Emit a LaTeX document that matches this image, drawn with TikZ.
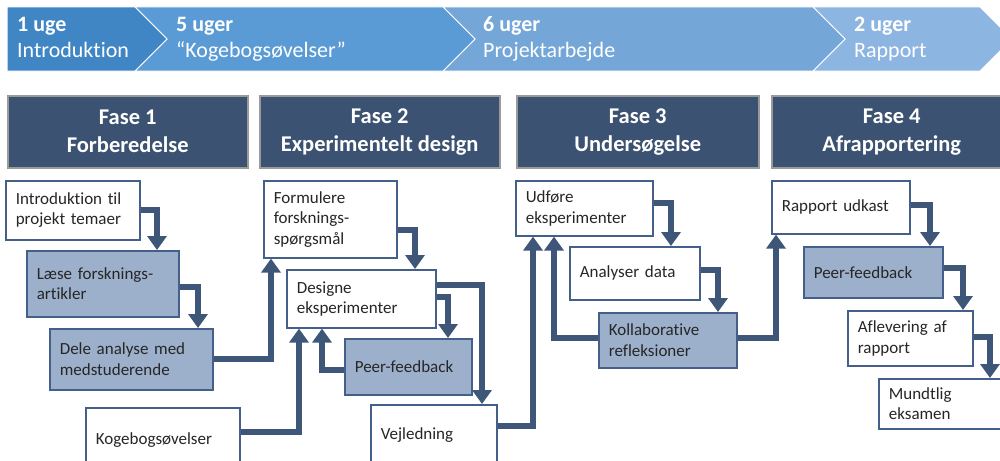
\documentclass[tikz,border=0pt]{standalone}
\usepackage{fontspec}
\setmainfont{Carlito}[Ligatures=NoCommon]
\usetikzlibrary{arrows.meta,calc}
\definecolor{cconn}{HTML}{3E5678}
\definecolor{cbord}{HTML}{44608A}
\definecolor{cfill}{HTML}{9DB0CB}
\definecolor{chdr}{HTML}{3C5272}
\definecolor{chdrb}{HTML}{9A9A9A}
\definecolor{cseg1}{HTML}{4086C5}
\definecolor{cseg2}{HTML}{5B9BD5}
\definecolor{cseg3}{HTML}{74A7D8}
\definecolor{cseg4}{HTML}{8DB5E1}
\newcommand\bxfont{\fontsize{17}{20.5}\selectfont}
\newcommand\hdfont{\fontsize{22.5}{28}\selectfont}
\newcommand\chfont{\fontsize{22}{25}\selectfont}
\begin{document}
\begin{tikzpicture}[x=1pt,y=-1pt,
 bx/.style={rectangle,draw=cbord,line width=1.6pt,anchor=north west,align=left,inner xsep=10pt,inner ysep=0pt,font=\bxfont,text=black!85},
 wbox/.style={bx,fill=white},
 gbox/.style={bx,fill=cfill},
 hdr/.style={rectangle,draw=chdrb,line width=1.5pt,fill=chdr,anchor=north west,minimum height=72,align=center,text=white,font=\hdfont\bfseries},
 arr/.style={draw=cconn,line width=6pt,-{Triangle[width=19pt,length=14pt]}},
 chev/.style={draw=white,line width=1pt},
 cht/.style={anchor=base west,text=white,inner sep=0pt,font=\chfont},
 chtb/.style={cht,font=\chfont\bfseries}
]
\useasboundingbox (0,0) rectangle (1000,460);
\clip (0,0) rectangle (1000,460);
% chevron band
\path[chev,fill=cseg4] (813,7) -- (980,7) -- (1012,39) -- (980,71) -- (813,71) -- (845,39) -- cycle;
\path[chev,fill=cseg3] (443,7) -- (813,7) -- (845,39) -- (813,71) -- (443,71) -- (475,39) -- cycle;
\path[chev,fill=cseg2] (135,7) -- (443,7) -- (475,39) -- (443,71) -- (135,71) -- (167,39) -- cycle;
\path[chev,fill=cseg1] (7,7) -- (135,7) -- (167,39) -- (135,71) -- (7,71) -- cycle;
\node[chtb] (t1a) at (17,32) {1 uge};
\node[cht]  (t1b) at (17,58) {Introduktion};
\node[chtb] (t2a) at (176,32) {5 uger};
\node[cht]  (t2b) at (176,58) {“Kogebogsøvelser”};
\node[chtb] (t3a) at (483,32) {6 uger};
\node[cht]  (t3b) at (483,58) {Projektarbejde};
\node[chtb] (t4a) at (854,32) {2 uger};
\node[cht]  (t4b) at (854,58) {Rapport};
% headers
\node[hdr,minimum width=240] (h1) at (7,95) {Fase 1\\Forberedelse};
\node[hdr,minimum width=240] (h2) at (259,95) {Fase 2\\Experimentelt design};
\node[hdr,minimum width=242] (h3) at (516,95) {Fase 3\\Undersøgelse};
\node[hdr,minimum width=240] (h4) at (771,95) {Fase 4\\Afrapportering};
% boxes
\node[wbox,minimum width=134,text width=114,minimum height=59] (intro) at (5,180) {Introduktion til\\projekt temaer};
\node[gbox,minimum width=152,text width=132,minimum height=66] (laese) at (26,250) {Læse forsknings-\\artikler};
\node[gbox,minimum width=163,text width=143,minimum height=61] (dele) at (49,328) {Dele analyse med\\medstuderende};
\node[wbox,minimum width=154,text width=134,minimum height=62,text depth=0pt] (koge) at (85,407) {Kogebogsøvelser\\[5pt]};
\node[wbox,minimum width=133,text width=113,minimum height=77] (formul) at (263,180) {Formulere\\forsknings-\\spørgsmål};
\node[wbox,minimum width=149,text width=129,minimum height=58] (design) at (286,269) {Designe\\eksperimenter};
\node[gbox,minimum width=127,text width=107,minimum height=56] (peer1) at (344,338) {Peer-feedback};
\node[wbox,minimum width=126,text width=106,minimum height=60] (vejl) at (370,404) {Vejledning\\[3pt]};
\node[wbox,minimum width=137,text width=117,minimum height=55] (udfore) at (515,180) {Udføre\\eksperimenter};
\node[wbox,minimum width=130,text width=110,minimum height=53] (analy) at (569,246) {Analyser data};
\node[gbox,minimum width=138,text width=118,minimum height=55] (kollab) at (598,312) {Kollaborative\\refleksioner};
\node[wbox,minimum width=138,text width=118,minimum height=53] (rapp) at (771,180) {Rapport udkast};
\node[gbox,minimum width=139,text width=119,minimum height=51] (peer2) at (803,246) {Peer-feedback};
\node[wbox,minimum width=125,text width=105,minimum height=55] (aflev) at (847,310) {Aflevering af\\rapport};
\node[wbox,minimum width=135,text width=115,minimum height=50] (mundt) at (878,378) {Mundtlig\\eksamen};
% connectors
\draw[arr] (intro.east) -| ($(laese.north west)+(131,0)$);
\draw[arr] ($(laese.north east)+(0,37)$) -| ($(dele.north west)+(149,0)$);
\draw[arr] (dele.east) -| ($(formul.south west)+(8,0)$);
\draw[arr] ($(koge.north east)+(0,25)$) -| ($(design.south west)+(13,0)$);
\draw[arr] ($(formul.north east)+(0,50)$) -| ($(design.north west)+(129,0)$);
\draw[arr] ($(design.north east)+(0,28)$) -| ($(peer1.north west)+(104,0)$);
\draw[arr] ($(peer1.north west)+(0,32)$) -| ($(design.south west)+(36,0)$);
\draw[arr] ($(design.north east)+(0,16)$) -| ($(vejl.north west)+(112,0)$);
\draw[arr] ($(vejl.north east)+(0,22)$) -| ($(udfore.south west)+(18,0)$);
\draw[arr] ($(udfore.north east)+(0,23)$) -| ($(analy.north west)+(102,0)$);
\draw[arr] ($(analy.north east)+(0,24)$) -| ($(kollab.north west)+(120,0)$);
\draw[arr] ($(kollab.north west)+(0,26)$) -| ($(udfore.south west)+(39,0)$);
\draw[arr] ($(kollab.north east)+(0,26)$) -| ($(rapp.south west)+(5,0)$);
\draw[arr] ($(rapp.north east)+(0,25)$) -| ($(peer2.north west)+(127,0)$);
\draw[arr] ($(peer2.north east)+(0,22)$) -| ($(aflev.north west)+(116,0)$);
\draw[arr] ($(aflev.north east)+(0,27)$) -| ($(mundt.north west)+(112,0)$);
\end{tikzpicture}
\end{document}
